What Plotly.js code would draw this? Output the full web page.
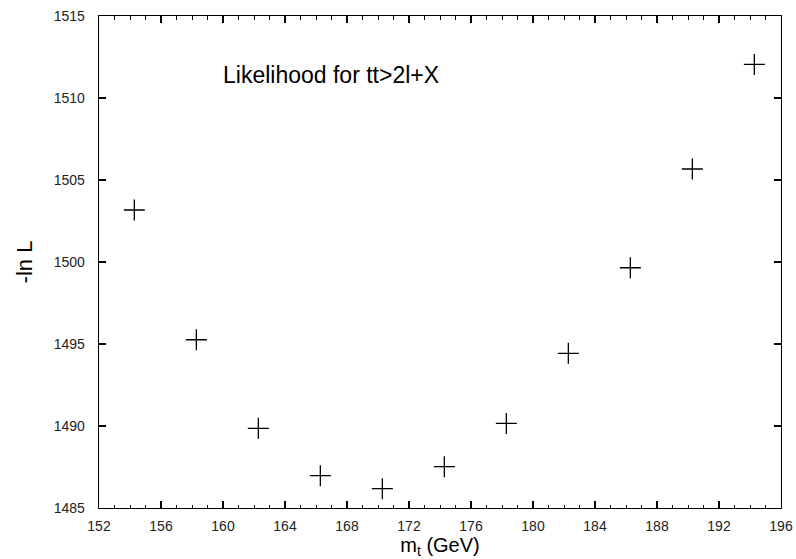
<!DOCTYPE html>
<html>
<head>
<meta charset="utf-8">
<script src="https://cdn.plot.ly/plotly-3.0.1.min.js"></script>
<style>html,body{margin:0;padding:0;background:#fff;}#chart{width:796px;height:559px;}</style>
</head>
<body>
<div id="chart"></div>
<script>
const mt = [154.28, 158.28, 162.28, 166.28, 170.28, 174.28, 178.28, 182.28, 186.28, 190.28, 194.28];
const negLnL = [1503.17, 1495.26, 1489.86, 1486.97, 1486.18, 1487.52, 1490.16, 1494.43, 1499.65, 1505.67, 1512.05];
const xTicks = [152, 156, 160, 164, 168, 172, 176, 180, 184, 188, 192, 196];
const yTicks = [1485, 1490, 1495, 1500, 1505, 1510, 1515];
const labelText = "Likelihood for tt>2l+X";

const font = "Liberation Sans, Arial, Helvetica, sans-serif";

const trace = {
  x: mt, y: negLnL, type: 'scatter', mode: 'markers',
  marker: {symbol: 'cross-thin-open', size: 15, color: '#000', line: {color: '#000', width: 1.3}},
  hoverinfo: 'none', showlegend: false
};

const axisCommon = {
  showgrid: false, zeroline: false, showline: true, mirror: 'ticks',
  linecolor: '#000', linewidth: 1.3, ticks: 'inside', ticklen: 7, tickwidth: 1.3,
  tickcolor: '#000', tickfont: {family: font, size: 14, color: '#222'}
};

const layout = {
  width: 796, height: 559,
  margin: {l: 99, r: 15, t: 16, b: 51},
  paper_bgcolor: '#fff', plot_bgcolor: '#fff',
  font: {family: font, color: '#000'},
  xaxis: Object.assign({}, axisCommon, {
    range: [152, 196], tickvals: xTicks, ticktext: xTicks.map(String),
    ticklabelstandoff: 5,
    minor: {dtick: 1, ticks: 'inside', ticklen: 3.5, tickwidth: 1, tickcolor: '#000', showgrid: false},
    title: {text: 'm<sub>t</sub> (GeV)', font: {family: font, size: 20, color: '#000'}, standoff: 3}
  }),
  yaxis: Object.assign({}, axisCommon, {
    range: [1485, 1515], tickvals: yTicks, ticktext: yTicks.map(String),
    ticklabelstandoff: 10,
    title: {text: '-ln L', font: {family: font, size: 22, color: '#000'}, standoff: 15}
  }),
  annotations: [{
    text: labelText, xref: 'x', yref: 'y', x: 159.9, y: 1511.4,
    xanchor: 'left', yanchor: 'middle', showarrow: false,
    font: {family: font, size: 23, color: '#000'}
  }]
};

Plotly.newPlot('chart', [trace], layout, {displayModeBar: false, staticPlot: true});
</script>
</body>
</html>
